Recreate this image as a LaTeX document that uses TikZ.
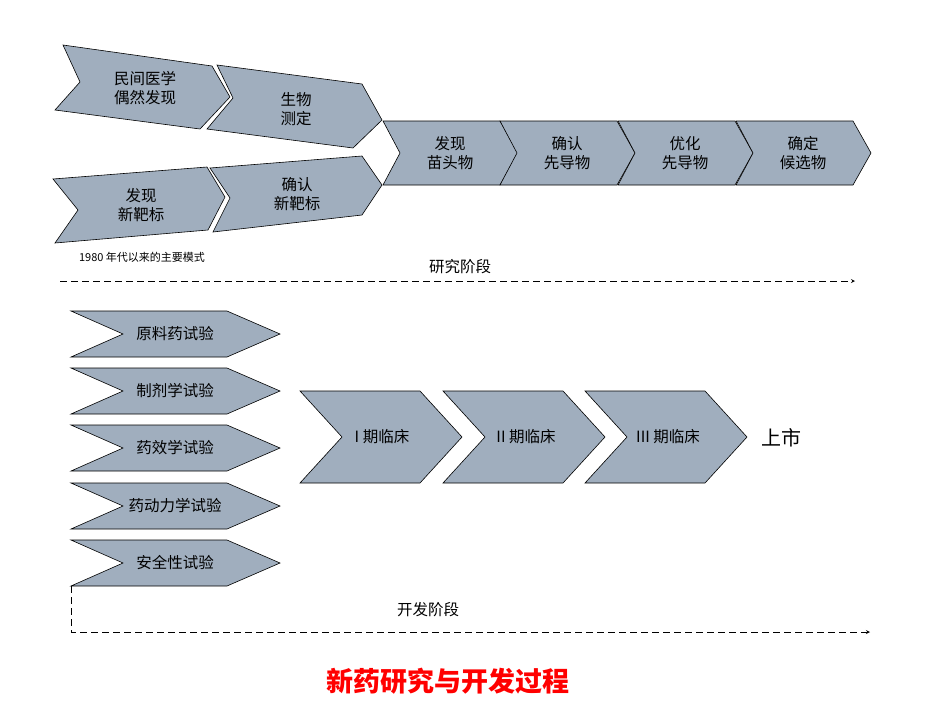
\documentclass[tikz,border=0pt]{standalone}
\usepackage{fontspec}
\setmainfont{Noto Sans CJK SC}
\usepackage{xcolor}
\usetikzlibrary{arrows}
\definecolor{chevgray}{HTML}{A0AEBE}
\tikzstyle{chev} = [draw=black, fill=chevgray, line width=0.6pt]
\tikzstyle{lbl} = [align=center, font=\fontsize{15.5}{19}\selectfont, inner sep=0pt]
\tikzstyle{phase} = [thick, dash pattern=on 7pt off 4pt, ->, >=stealth]

\begin{document}
\begin{tikzpicture}[x=1pt, y=-1pt]
    \useasboundingbox (0,0) rectangle (950,713);
    % research stage
    \draw[chev] (63,45) -- (212,66) -- (230,97) -- (200,129) -- (55,110) -- (80,82) -- cycle;
    \draw[chev] (217,65) -- (362,84) -- (382,120) -- (353,148) -- (207,129) -- (233,98) -- cycle;
    \draw[chev] (53,179) -- (207,167) -- (225,197) -- (208,230) -- (55,243) -- (78,210) -- cycle;
    \draw[chev] (210,168) -- (362,156) -- (382,185) -- (362,215) -- (213,232) -- (230,198) -- cycle;
    \foreach \x in {383,500,618,736}
        \draw[chev] (\x,121) -- (\x+117,121) -- (\x+135,153) -- (\x+117,185) -- (\x,185) -- (\x+17,153) -- cycle;
    \node(folk)[lbl] at (145,88) {民间医学\\偶然发现};
    \node(assay)[lbl] at (296,109) {生物\\测定};
    \node(target)[lbl] at (141,205) {发现\\新靶标};
    \node(confirm)[lbl] at (297,194) {确认\\新靶标};
    \node(hit)[lbl] at (450,153) {发现\\苗头物};
    \node(lead)[lbl] at (567,153) {确认\\先导物};
    \node(optim)[lbl] at (685,153) {优化\\先导物};
    \node(cand)[lbl] at (803,153) {确定\\候选物};
    \node(mode)[inner sep=0pt, font=\fontsize{11}{13}\selectfont] at (142,257) {1980 年代以来的主要模式};
    \node(research)[lbl] at (460,267) {研究阶段};
    \coordinate (rs) at (60,281);
    \coordinate (re) at (855,281);
    \draw[phase] (rs) -- (re);
    % development stage
    \foreach \y/\t in {311/原料药试验, 368/制剂学试验, 425/药效学试验, 483/药动力学试验, 540/安全性试验}
    {
        \draw[chev] (71,\y) -- (227,\y) -- (280,\y+23) -- (227,\y+46) -- (71,\y+46) -- (123,\y+23) -- cycle;
        \node[lbl] at (175,\y+23) {\t};
    }
    \foreach \x in {300,443,585}
        \draw[chev] (\x,391) -- (\x+120,391) -- (\x+162,437) -- (\x+120,483) -- (\x,483) -- (\x+42,437) -- cycle;
    \node(ph1)[lbl] at (382,437) {I 期临床};
    \node(ph2)[lbl] at (526,437) {II 期临床};
    \node(ph3)[lbl] at (668,437) {III 期临床};
    \node(market)[inner sep=0pt, font=\fontsize{20}{24}\selectfont] at (781,438) {上市};
    \node(dev)[lbl] at (428,610) {开发阶段};
    \coordinate (ds) at (71,586);
    \coordinate (de) at (870,632);
    \draw[phase] (ds) |- (de);
    \node(title)[inner sep=0pt, text=red, font=\fontsize{27}{32}\selectfont\bfseries] at (448,681) {新药研究与开发过程};
\end{tikzpicture}
\end{document}
